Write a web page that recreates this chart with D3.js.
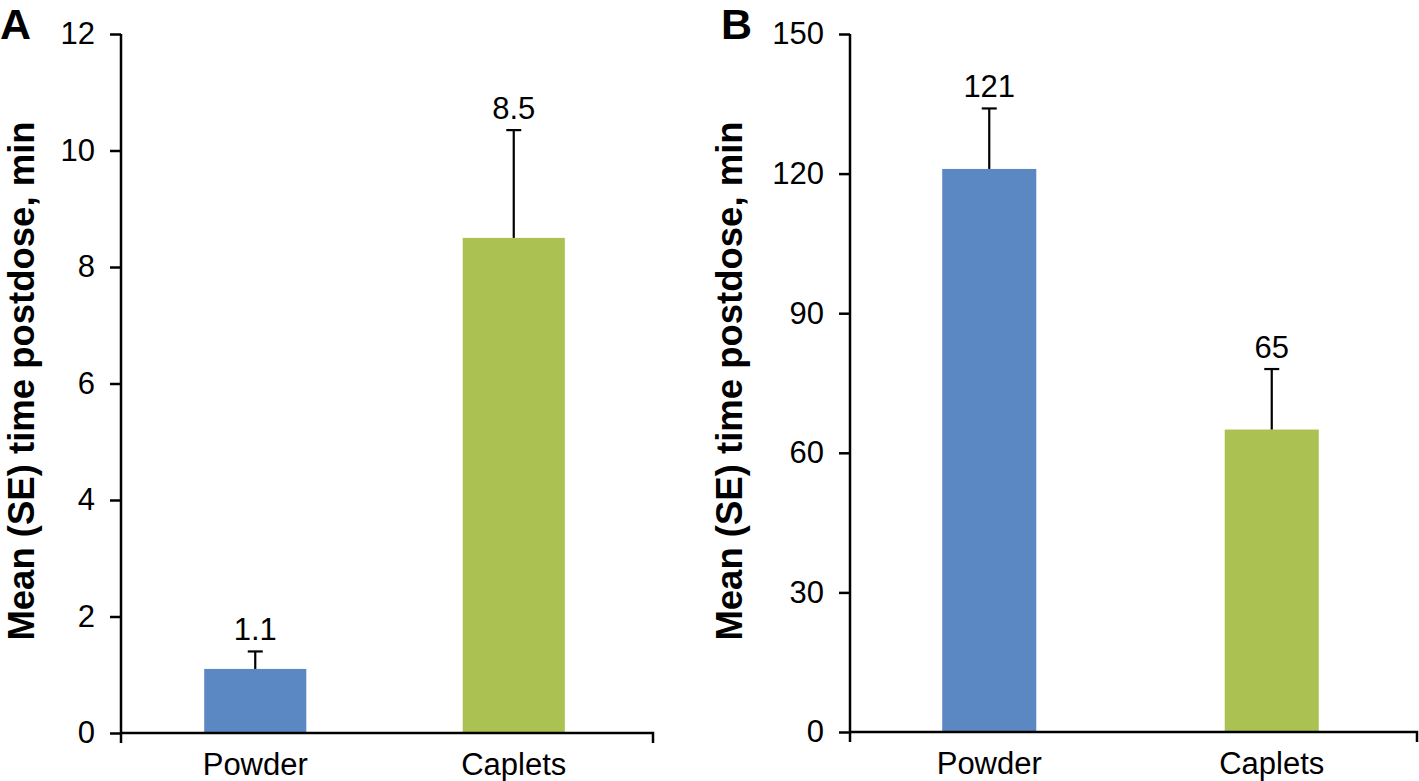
<!DOCTYPE html>
<html>
<head>
<meta charset="utf-8">
<script src="https://cdn.jsdelivr.net/npm/d3@7"></script>
<style>
  html, body { margin: 0; padding: 0; background: #fff; }
  svg { display: block; font-family: "Liberation Sans", Arial, Helvetica, sans-serif; }
</style>
</head>
<body>
<svg id="chart" width="1419" height="781"></svg>
<script>
// ---- Data ----
const categories = ["Powder", "Caplets"];
const barColors = ["#5b88c2", "#abc252"];

const panelAMeans = [1.1, 8.5];
const panelASE = [0.3, 1.85];
const panelALabels = ["1.1", "8.5"];
const panelATicks = [0, 2, 4, 6, 8, 10, 12];

const panelBMeans = [121, 65];
const panelBSE = [13, 13];
const panelBLabels = ["121", "65"];
const panelBTicks = [0, 30, 60, 90, 120, 150];

const yTitle = "Mean (SE) time postdose, min";

const svg = d3.select("#chart");

function drawPanel(cfg) {
  const g = svg.append("g");
  const y = d3.scaleLinear().domain([cfg.ticks[0], cfg.ticks[cfg.ticks.length - 1]])
    .range([cfg.y0, cfg.y1]);
  const x = d3.scaleBand().domain(categories).range(cfg.bandRange).paddingInner(cfg.padInner).paddingOuter(cfg.padOuter);

  // bars
  g.selectAll("rect.bar").data(categories).join("rect")
    .attr("class", "bar")
    .attr("x", d => x(d))
    .attr("width", x.bandwidth())
    .attr("y", (d, i) => y(cfg.means[i]))
    .attr("height", (d, i) => y(0) - y(cfg.means[i]))
    .attr("fill", (d, i) => barColors[i]);

  // error bars (upper only)
  const capW = 15;
  categories.forEach((c, i) => {
    const cx = x(c) + x.bandwidth() / 2;
    const top = y(cfg.means[i] + cfg.se[i]);
    g.append("line").attr("x1", cx).attr("x2", cx)
      .attr("y1", y(cfg.means[i])).attr("y2", top)
      .attr("stroke", "#000").attr("stroke-width", 2.2);
    g.append("line").attr("x1", cx - capW / 2).attr("x2", cx + capW / 2)
      .attr("y1", top).attr("y2", top)
      .attr("stroke", "#000").attr("stroke-width", 2.2);
    g.append("text").attr("x", cx).attr("y", top - 11)
      .attr("text-anchor", "middle").attr("font-size", 31).attr("fill", "#000")
      .text(cfg.labels[i]);
  });

  // y axis
  const yAxis = d3.axisLeft(y).tickValues(cfg.ticks).tickSize(11).tickPadding(15).tickSizeOuter(0);
  const ya = g.append("g").attr("transform", `translate(${cfg.axisX},0)`).call(yAxis);
  ya.select(".domain").attr("stroke", "#000").attr("stroke-width", 2.5)
    .attr("d", `M0,${cfg.y0 + 10}V${cfg.y1}`);
  ya.selectAll(".tick line").attr("stroke", "#000").attr("stroke-width", 2.5);
  ya.selectAll(".tick text").attr("font-size", 31).attr("fill", "#000")
    .attr("font-family", "Liberation Sans, Arial, sans-serif");

  // x axis
  const xAxis = d3.axisBottom(x).tickSize(0).tickPadding(20);
  const xa = g.append("g").attr("transform", `translate(0,${cfg.y0})`).call(xAxis);
  xa.select(".domain").attr("stroke", "#000").attr("stroke-width", 2.5)
    .attr("d", `M${cfg.axisX},0H${cfg.axisEnd}V10`);
  xa.selectAll(".tick text").attr("font-size", 31).attr("fill", "#000")
    .attr("font-family", "Liberation Sans, Arial, sans-serif")
    .attr("dy", "0.71em");

  // y title
  g.append("text")
    .attr("transform", `translate(${cfg.titleX},${cfg.titleY}) rotate(-90)`)
    .attr("text-anchor", "middle")
    .attr("font-size", 36.5).attr("font-weight", "bold").attr("fill", "#000")
    .text(yTitle);

  // panel letter
  g.append("text").attr("x", cfg.letterX).attr("y", 39)
    .attr("font-size", 43).attr("font-weight", "bold").attr("fill", "#000")
    .text(cfg.letter);
}

drawPanel({
  means: panelAMeans, se: panelASE, labels: panelALabels, ticks: panelATicks,
  y0: 733, y1: 34, axisX: 121, axisEnd: 653,
  bandRange: [126, 643], padInner: 0.605, padOuter: 0.3025,
  titleX: 34, titleY: 381, letter: "A", letterX: 0
});

drawPanel({
  means: panelBMeans, se: panelBSE, labels: panelBLabels, ticks: panelBTicks,
  y0: 732, y1: 34, axisX: 850, axisEnd: 1417,
  bandRange: [848, 1413], padInner: 0.667, padOuter: 0.3335,
  titleX: 742, titleY: 381, letter: "B", letterX: 721
});
</script>
</body>
</html>
